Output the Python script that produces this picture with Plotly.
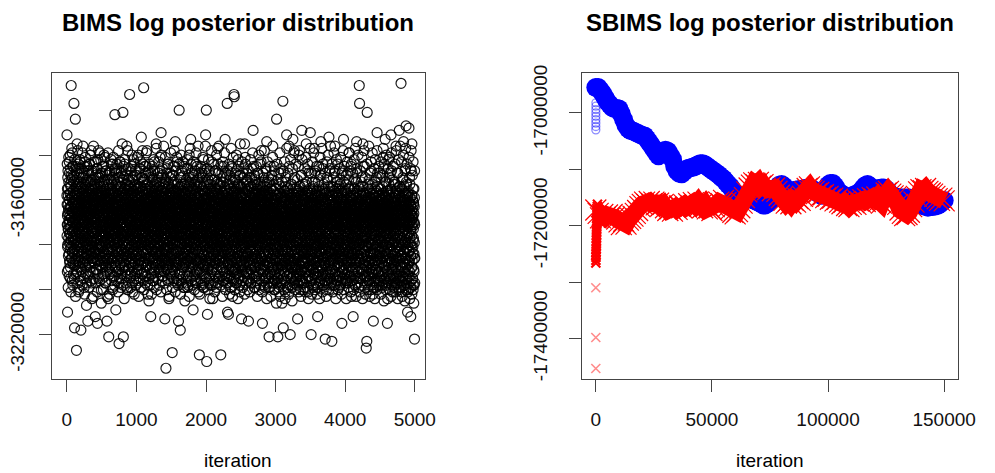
import plotly.graph_objects as go

# BIMS chain: log posterior, given as thousands below
# -3100000 (e.g. 69 -> -3169000); even and odd iterations kept in two blocks
bims_rows_even = [
    "31 62 71 55 110 80 66 47 73 58 91 64 77 52 69 84 43 70 60 75 88 57 67 40 79 63 95 72 54 81 9 68 49 76 59 86 65 39 74 50 83 61 98 70 56 78 45 66 89 62",
    "17 74 58 82 117 63 69 51 87 72 24 60 78 45 66 93 55 71 127 64 80 48 68 76 57 85 62 38 73 90 53 67 79 59 101 70 46 83 61 75 56 88 65 42 77 52 69 96 63 72",
    "118 66 54 79 71 48 85 61 74 57 92 68 50 81 64 36 76 59 88 70 55 83 62 99 67 45 78 60 73 53 86 69 41 75 58 90 65 52 80 63 107 71 56 84 47 68 77 61 94 66",
    "114 70 58 82 64 49 76 67 55 89 61 73 44 80 66 57 92 69 52 78 63 85 59 71 38 74 65 97 54 81 68 47 77 60 86 72 56 64 103 79 51 67 83 62 43 75 58 88 70 65",
    "60 73 55 112 68 84 49 77 63 91 57 70 80 46 66 74 53 87 61 115 69 42 78 64 56 82 71 95 58 67 50 76 85 62 72 39 80 59 68 54 89 65 75 48 81 63 70 100 57 74",
    "67 52 80 61 74 45 86 69 58 77 93 63 71 54 83 66 40 75 60 88 68 51 79 62 72 97 57 84 65 47 76 70 55 90 64 78 59 114 73 49 82 66 61 86 53 74 68 104 60 71",
    "121 64 77 55 70 83 48 67 79 60 92 73 57 65 86 51 76 62 69 44 81 58 74 90 66 53 78 63 71 100 56 84 68 41 75 61 88 70 59 80 47 67 94 72 22 64 79 57 85 69",
    "62 109 75 53 81 68 59 87 71 46 77 64 92 56 70 83 61 74 50 79 66 97 58 73 124 65 85 54 69 78 43 72 60 89 67 55 82 63 76 48 71 95 59 80 66 52 75 63 86 70",
    "68 57 21 79 65 121 73 50 84 61 70 90 55 76 64 44 81 67 59 93 72 62 78 53 87 66 71 47 80 60 74 99 56 69 83 64 38 77 58 85 68 51 73 91 63 79 55 70 88 65",
    "13 70 61 82 55 74 67 93 49 78 63 86 58 72 45 80 65 97 57 69 84 62 75 51 71 89 60 77 42 66 83 56 73 102 64 79 53 68 88 61 76 47 70 85 59 74 66 95 63 71",
    "74 58 83 66 49 77 62 91 70 55 81 64 72 40 79 60 87 68 53 75 96 63 71 57 85 67 46 78 61 89 69 54 76 65 32 59 73 82 50 67 80 62 71 93 56 74 64 44 83 69",
    "66 10 79 58 72 87 63 51 76 68 94 60 74 55 82 65 71 45 78 62 89 57 70 84 64 38 77 53 73 98 61 80 67 48 75 59 86 69 63 105 56 72 81 65 50 77 60 91 68 73",
    "71 63 112 79 56 68 85 61 74 50 82 66 93 58 70 77 47 64 88 72 59 80 67 96 54 75 62 86 69 43 78 65 73 57 90 61 76 52 83 68 70 35 60 74 55 87 66 79 63 72",
    "64 77 55 69 86 60 73 48 81 67 92 58 75 63 84 52 70 78 41 66 89 61 74 56 80 68 30 62 71 50 83 65 76 59 87 70 46 73 64 94 57 79 67 53 82 61 75 69 88 63",
    "70 59 82 113 66 75 52 87 63 78 69 135 57 73 91 64 80 48 71 60 85 67 77 55 96 62 74 44 81 68 58 89 72 65 103 54 79 61 70 86 50 75 67 93 63 78 57 72 84 66",
    "61 75 68 53 84 70 128 63 79 58 91 66 73 49 82 60 77 69 95 56 71 87 64 45 80 67 74 59 34 62 78 52 86 68 72 57 89 65 76 41 83 61 70 97 66 79 55 73 88 64",
    "69 114 57 76 63 85 20 71 58 80 66 93 54 74 118 62 79 68 50 87 65 73 60 96 70 47 82 64 77 56 90 67 72 43 84 61 75 59 99 68 78 53 86 65 71 62 81 105 57 74",
    "66 79 58 72 88 63 75 51 82 69 94 60 77 56 70 85 64 46 80 67 73 98 61 76 54 87 68 71 40 83 63 78 59 92 66 74 52 81 69 33 62 75 57 86 70 64 79 48 90 67",
    "72 60 84 67 55 78 109 63 89 71 49 80 65 75 58 93 69 62 86 52 77 68 97 61 74 56 82 70 44 79 64 91 66 73 59 87 68 51 76 63 83 71 36 57 75 66 88 61 78 69",
    "65 129 73 57 82 69 92 61 77 53 86 68 74 46 80 63 96 71 58 84 66 75 50 89 64 79 70 55 99 62 76 42 85 67 73 60 93 69 78 56 81 64 72 48 87 66 31 59 75 71",
    "70 20 79 62 132 74 56 85 67 111 60 78 71 51 90 64 76 58 83 69 95 62 73 47 81 66 75 55 88 68 61 98 72 53 79 65 86 60 74 43 82 68 77 57 91 63 70 104 66 80",
    "63 76 58 84 69 51 79 66 93 60 74 82 55 71 64 88 47 77 68 97 61 73 56 85 70 65 80 52 91 67 75 59 37 63 78 44 83 69 72 57 87 64 76 62 94 68 53 81 66 73",
    "71 59 86 65 77 129 54 73 81 62 90 68 75 48 84 66 72 57 96 63 79 70 52 88 67 74 61 83 45 78 64 92 69 56 80 72 33 60 76 65 87 58 73 50 82 68 95 62 77 70",
    "67 17 80 110 62 75 57 89 70 64 111 83 53 72 94 66 78 60 86 49 74 68 99 61 77 55 84 71 63 91 58 76 69 45 82 65 73 59 88 67 103 62 79 52 85 70 74 57 92 66",
    "13 64 14 78 56 83 70 61 90 67 74 51 81 65 97 59 76 69 47 86 63 72 57 93 68 79 54 84 66 71 42 88 62 77 60 95 70 74 53 82 65 101 61 78 68 49 85 64 73 58",
    "69 76 58 87 113 64 80 72 55 91 66 77 61 84 48 73 68 96 59 81 70 63 89 53 75 67 35 62 79 71 57 86 65 44 83 69 74 60 92 66 78 51 88 64 72 56 95 70 77 62",
    "72 61 84 67 114 55 79 70 93 63 76 58 88 68 74 50 82 65 97 60 73 69 85 54 78 66 91 62 75 46 80 71 64 87 57 74 68 29 61 79 53 83 70 66 94 59 77 72 49 86",
    "64 78 57 90 69 74 61 85 52 77 67 96 63 72 80 55 88 70 59 75 66 93 48 81 68 73 62 87 56 79 71 100 60 76 65 84 44 78 69 58 91 67 74 53 86 63 38 70 77 61",
    "68 73 59 86 115 65 79 71 54 92 67 76 62 83 50 77 69 98 58 81 72 64 89 56 75 66 95 61 80 70 47 85 68 74 60 34 65 78 52 88 71 63 93 67 76 57 84 70 99 62",
    "71 63 121 79 58 85 69 74 61 93 66 77 55 88 70 82 64 97 59 75 68 51 90 65 78 72 60 86 67 36 62 80 73 56 91 69 76 45 83 66 95 61 78 70 64 100 58 84 72 67",
    "66 79 60 88 72 55 24 85 69 76 63 95 67 81 58 121 74 90 65 71 53 86 68 99 62 78 73 57 93 70 80 64 103 59 84 69 76 48 89 66 97 72 61 82 68 106 63 77 71 87",
    "74 16 83 66 117 70 92 61 79 68 56 88 73 64 96 59 82 71 101 65 77 52 90 69 75 62 86 67 31 60 80 72 57 94 68 78 63 99 70 84 55 87 66 76 73 36 61 89 69 80",
    "70 62 87 74 120 58 81 68 95 64 77 71 53 90 66 83 60 99 72 75 57 88 69 33 63 80 73 51 93 67 78 61 86 70 38 65 84 59 76 72 96 63 89 68 74 55 91 66 82 71",
    "68 81 59 92 72 65 86 113 61 78 70 97 57 84 66 75 40 63 89 71 54 80 68 94 62 77 73 100 58 85 69 65 91 74 49 82 67 29 60 79 71 87 64 96 70 76 56 88 68 83",
    "73 64 90 70 58 84 67 99 62 79 71 53 88 66 76 95 60 82 69 35 64 77 72 56 92 68 80 61 86 74 47 83 65 101 70 78 59 89 67 75 63 94 71 57 85 69 77 62 30 72",
    "66 78 61 89 120 72 57 84 68 95 63 76 70 52 87 65 80 99 60 74 69 91 55 82 67 77 37 62 86 71 48 79 65 93 59 83 72 68 97 63 75 57 88 70 80 66 102 61 77 69",
    "71 112 63 85 69 58 92 74 66 80 54 89 67 76 61 97 70 83 64 49 87 72 68 79 34 60 75 66 90 56 82 71 63 94 69 77 59 86 65 44 81 73 68 98 62 78 70 57 88 67",
    "64 79 70 56 88 122 67 74 61 93 69 82 57 77 72 100 63 85 68 50 81 66 75 96 60 79 71 54 89 65 76 69 32 62 84 73 58 91 67 78 46 83 70 64 95 61 77 68 87 72",
    "69 58 83 123 72 65 91 61 77 70 54 86 67 79 63 98 71 60 84 68 75 48 89 66 73 36 62 80 69 57 93 65 76 71 52 85 68 78 63 96 70 59 82 67 74 44 88 65 79 72",
    "65 77 62 88 70 55 83 68 94 61 79 72 51 86 66 75 98 59 81 69 64 90 57 78 71 115 63 84 67 47 92 70 76 60 87 65 73 33 62 80 68 56 89 71 74 63 96 66 82 69",
    "70 62 85 67 77 53 90 69 74 60 96 66 81 72 57 87 64 78 70 48 92 65 75 61 83 68 39 63 79 71 55 88 67 74 59 94 69 80 64 45 86 72 68 77 103 62 84 66 76 60",
    "67 80 58 90 71 64 112 76 69 85 55 79 66 93 62 74 70 51 87 68 77 61 98 65 82 72 57 88 67 75 63 34 70 79 48 84 66 73 60 95 69 78 54 86 71 65 92 62 80 68",
    "9 64 17 81 70 57 88 67 75 62 95 69 78 54 84 66 72 60 91 68 79 50 86 65 74 71 35 63 82 69 57 89 67 77 62 94 70 45 83 66 76 60 87 72 68 102 64 80 58 73",
    "126 70 61 85 123 67 76 21 59 90 72 65 81 55 87 69 74 96 62 79 68 51 88 66 73 61 93 70 77 57 84 65 100 71 80 63 47 86 68 75 60 92 67 78 53 89 69 72 64 83",
    "66 114 75 58 89 70 63 84 68 96 61 78 72 52 87 65 76 69 99 59 82 71 64 91 56 80 67 74 30 62 85 70 48 79 66 93 61 77 72 55 88 68 74 63 97 60 83 69 76 65",
    "71 63 86 67 77 50 92 69 74 60 88 66 98 57 81 72 65 85 54 79 68 41 62 76 70 46 89 66 83 61 95 71 74 58 87 68 33 63 80 67 52 90 70 76 59 84 65 97 72 69",
    "67 79 115 60 84 70 56 93 73 65 81 68 42 58 77 71 50 88 64 75 69 95 62 82 72 55 86 67 31 63 78 70 47 91 66 80 61 87 73 68 101 59 83 70 76 53 94 65 79 71",
    "70 58 88 67 78 97 61 84 72 53 90 66 75 69 36 62 81 70 56 94 68 77 63 87 71 48 83 66 99 60 79 73 65 92 57 86 69 29 62 80 71 54 89 67 76 64 96 70 82 61",
    "8 72 60 89 66 101 77 55 85 70 63 94 68 79 51 88 65 74 34 61 83 71 57 92 67 76 64 98 59 86 73 46 90 69 78 62 27 66 82 70 53 95 68 75 63 87 71 110 58 81",
    "67 79 56 94 71 64 88 28 61 83 70 50 92 68 77 59 99 66 85 73 112 62 80 69 47 90 67 76 35 58 87 72 64 95 68 81 55 100 70 77 61 91 66 84 98 63 79 122 71 86",
]
bims_rows_odd = [
    "58 76 44 92 67 81 50 71 62 99 55 85 73 41 66 79 94 60 48 87 69 75 53 82 64 90 46 72 57 101 68 78 51 86 63 37 74 59 96 70 83 45 65 88 56 77 61 93 52 80",
    "73 49 84 60 95 66 42 78 70 57 89 63 103 54 75 68 86 47 80 61 92 71 58 35 83 65 76 52 97 69 62 87 44 74 81 56 100 67 73 50 90 59 79 64 85 43 71 94 60 77",
    "55 82 68 46 91 62 77 71 53 98 65 84 39 74 60 88 69 50 80 57 95 72 63 86 48 76 66 102 58 81 70 43 89 61 75 54 93 67 79 51 84 63 72 97 45 68 87 59 78 64",
    "80 61 93 52 70 85 47 76 64 99 58 73 88 44 67 82 56 90 62 77 40 71 96 59 84 66 51 79 69 104 55 74 87 63 48 81 68 92 57 75 65 36 86 72 60 95 53 78 70 83",
    "62 88 54 75 97 68 43 83 60 72 91 57 79 66 50 86 73 61 101 46 77 69 84 55 93 64 71 38 80 59 89 67 52 76 63 96 49 82 70 58 87 65 74 42 90 61 78 106 56 69",
    "84 57 72 95 63 48 81 69 90 54 76 62 100 66 45 83 71 59 87 52 78 68 94 41 74 65 85 60 97 56 80 70 47 89 64 73 58 92 67 103 51 77 63 86 70 39 82 61 75 88",
    "53 79 66 91 58 74 102 61 85 70 47 93 64 77 56 89 68 42 81 73 60 96 55 76 65 87 50 71 99 62 83 69 44 78 57 94 66 72 86 51 75 63 98 59 80 68 46 90 64 74",
    "77 62 89 48 72 96 58 83 67 44 79 65 92 55 73 86 61 101 52 76 69 38 84 63 91 57 74 68 95 50 81 66 43 88 60 78 71 99 54 85 64 47 93 70 59 82 67 35 76 62",
    "90 56 73 65 98 51 79 68 45 87 62 76 104 58 83 70 42 92 66 74 55 89 61 97 49 78 64 84 57 71 36 86 67 94 53 80 63 100 59 75 69 46 91 65 82 54 77 72 88 60",
    "61 85 70 52 94 63 78 99 57 74 66 88 47 81 69 92 55 76 40 86 64 73 101 59 83 68 50 90 62 77 96 54 72 85 65 44 80 58 93 71 67 87 49 75 62 98 56 79 70 84",
    "68 92 55 78 64 41 86 73 59 97 66 81 51 89 62 75 103 57 84 70 46 91 65 77 54 87 61 95 69 43 80 58 72 99 63 85 50 76 67 93 56 79 71 38 88 64 74 52 96 60",
    "75 51 88 63 100 58 77 69 45 92 61 84 72 55 97 66 80 48 86 64 74 39 90 59 78 67 94 53 82 70 57 102 62 76 47 89 65 73 56 95 60 81 68 44 87 71 63 98 54 79",
    "86 64 71 48 93 59 79 67 102 55 83 62 76 45 90 68 57 96 73 51 85 65 78 42 91 60 74 99 56 81 69 47 88 63 75 53 94 70 58 84 66 37 89 61 77 100 52 72 67 82",
    "57 83 66 95 50 76 64 88 71 43 91 60 79 68 54 98 63 85 47 74 70 92 58 81 65 101 52 77 69 40 87 62 73 96 56 84 67 49 90 61 78 55 94 72 64 36 86 59 80 70",
    "79 60 92 54 73 86 65 41 97 62 77 70 51 89 58 83 68 100 46 75 63 91 56 80 71 44 88 66 74 95 53 82 61 104 69 57 87 64 78 48 93 59 72 85 67 39 90 62 76 55",
    "66 94 58 77 49 85 71 62 99 55 80 67 90 45 74 63 87 52 96 69 76 38 84 60 92 65 73 56 101 61 79 70 47 88 64 83 57 95 68 75 43 89 62 78 53 86 72 66 98 59",
    "83 55 76 68 96 61 44 89 72 58 93 65 79 50 86 63 102 70 56 81 67 40 91 59 77 74 53 97 64 85 48 80 69 62 94 57 73 88 66 45 90 60 78 71 99 54 84 63 75 67",
    "60 89 71 46 83 65 97 57 76 69 52 92 62 80 73 42 87 64 99 55 78 68 94 49 82 61 74 90 58 103 66 79 53 86 63 37 95 70 75 56 88 67 44 81 59 96 72 64 85 51",
    "74 63 98 56 81 69 50 90 65 77 43 94 61 84 71 58 100 53 79 67 88 47 73 62 96 57 82 70 39 87 64 76 54 92 68 80 45 97 59 75 66 89 52 83 72 60 101 63 78 48",
    "91 57 75 64 102 50 86 69 61 95 54 79 72 45 88 66 77 58 98 62 83 48 74 70 93 56 81 41 89 65 76 60 97 53 84 68 73 99 47 80 63 90 57 77 69 36 87 62 94 71",
    "64 82 52 95 70 59 88 75 46 91 63 79 67 100 55 84 71 42 86 60 97 68 53 77 89 62 74 104 57 81 65 49 93 72 61 85 56 78 69 38 92 66 76 51 98 63 83 58 87 73",
    "78 56 90 67 44 85 61 96 73 58 80 66 101 51 76 69 88 47 94 62 83 55 72 99 64 40 86 70 77 59 92 53 81 68 63 97 48 84 74 57 89 65 36 79 71 95 60 75 87 66",
    "55 87 69 78 98 60 73 52 90 66 81 45 94 63 76 70 57 103 61 85 68 43 91 58 79 74 50 96 65 83 62 88 39 77 71 55 93 67 80 59 100 64 48 86 72 97 56 82 69 75",
    "82 61 94 53 72 88 65 47 97 70 59 85 63 79 44 91 68 76 102 57 84 66 51 89 62 74 95 55 80 71 37 87 64 99 58 78 69 46 92 60 83 73 56 90 67 41 96 63 77 54",
    "69 95 57 80 64 100 51 86 72 61 91 48 77 68 93 56 82 65 40 88 73 59 97 62 79 70 53 85 66 104 58 75 90 45 83 67 61 94 54 78 71 98 49 87 63 76 35 89 68 81",
    "88 54 73 66 96 59 81 70 43 92 63 78 57 99 68 85 50 75 62 89 71 46 94 60 80 67 102 55 77 64 87 41 90 69 58 83 74 52 97 65 79 61 93 48 84 70 56 100 63 76",
    "61 79 92 56 70 85 47 96 64 77 68 53 89 72 101 59 83 66 42 91 62 75 97 54 80 69 88 50 74 63 95 57 86 71 39 82 65 78 93 58 73 67 45 90 60 84 99 55 76 70",
    "76 99 58 84 67 51 90 63 78 71 45 94 60 82 56 97 69 74 103 53 86 65 48 80 72 92 59 77 66 40 88 62 95 57 81 70 54 89 64 75 98 61 85 68 43 91 73 58 79 66",
    "57 86 72 63 101 55 80 68 93 48 77 65 89 60 74 96 52 84 70 38 91 62 79 67 99 56 73 87 64 46 82 71 94 58 76 69 104 53 88 61 75 43 90 66 83 59 97 72 50 78",
    "83 63 95 70 52 88 66 77 99 57 81 45 92 68 74 61 103 55 86 64 79 49 94 71 58 89 67 76 41 97 62 84 70 56 90 65 73 100 53 80 69 47 93 60 87 75 62 96 58 78",
    "68 92 55 81 73 106 60 86 64 44 97 70 77 58 90 66 83 51 95 62 75 69 101 48 88 72 57 93 65 80 39 87 61 76 98 54 84 67 46 91 71 63 96 59 79 74 52 89 66 85",
    "90 59 78 66 47 95 63 85 71 100 56 80 68 43 92 61 76 73 104 54 87 65 50 97 70 82 58 89 64 37 94 67 79 60 99 55 83 72 48 91 62 77 69 102 57 86 74 45 93 65",
    "64 85 72 98 57 79 66 42 93 70 61 88 76 53 96 67 82 59 105 63 74 46 90 69 80 55 94 62 87 71 39 97 65 78 58 91 73 50 86 68 100 60 83 75 44 95 66 79 56 89",
    "79 57 94 63 86 70 51 98 66 77 60 91 45 84 72 68 101 56 89 64 75 38 93 61 82 71 54 96 67 79 62 103 49 87 74 58 92 65 81 42 97 69 76 59 88 63 100 53 84 70",
    "62 88 70 54 97 65 81 75 46 92 60 86 69 101 57 78 72 41 95 64 84 67 52 90 74 61 99 56 83 68 44 94 71 79 63 104 58 87 66 48 91 73 62 96 55 82 76 37 89 69",
    "85 66 92 59 77 71 48 96 63 83 102 57 79 68 43 91 65 86 73 54 98 61 80 70 39 94 67 76 60 88 72 100 52 84 64 47 93 69 78 58 97 62 87 74 45 90 66 81 56 99",
    "59 94 67 81 73 52 99 64 86 70 45 92 61 78 69 104 56 83 75 41 96 66 80 62 89 72 49 95 58 84 68 37 91 74 63 101 55 87 71 46 93 65 79 60 98 70 53 88 67 82",
    "77 63 89 55 96 70 66 82 48 94 61 85 74 103 57 80 68 43 91 64 86 72 51 97 60 79 69 40 93 66 83 75 56 100 62 88 71 47 95 65 78 59 92 73 36 87 67 81 54 98",
    "68 97 60 84 72 44 93 66 79 58 101 63 87 71 50 95 62 77 69 39 90 75 56 98 64 82 70 47 92 61 86 73 104 55 80 67 42 96 65 83 59 89 74 52 94 68 78 100 57 85",
    "88 58 75 67 99 54 82 71 46 94 62 78 65 90 53 85 73 41 97 60 80 69 102 56 87 64 48 92 72 61 95 57 83 76 38 91 66 79 70 100 52 86 63 45 93 68 81 59 97 74",
    "63 82 71 95 56 78 66 104 49 88 72 60 93 67 80 43 97 64 85 70 55 91 62 76 99 51 84 73 39 94 65 79 61 90 68 47 96 58 83 75 101 54 87 66 44 92 70 77 60 86",
    "96 60 77 69 48 91 65 84 73 57 100 62 79 68 42 94 71 86 55 98 63 81 74 37 90 67 78 59 103 52 88 70 46 95 64 83 72 56 97 61 76 69 40 92 66 85 58 99 73 80",
    "70 87 55 79 66 101 61 90 73 47 95 63 84 69 52 98 60 77 72 41 93 67 86 58 104 54 81 71 45 96 65 78 62 91 74 38 88 68 83 57 99 64 76 50 94 70 80 61 89 66",
    "58 92 74 63 97 69 44 85 77 60 94 66 81 53 100 71 62 88 67 36 96 73 79 56 91 65 103 59 83 70 48 95 61 87 75 43 90 68 78 55 98 64 84 72 39 93 66 80 57 102",
    "84 65 72 99 59 80 68 46 93 62 76 71 104 55 88 64 42 97 70 81 57 91 66 50 95 73 63 87 38 100 60 83 69 54 96 67 78 61 92 74 45 89 65 85 58 98 72 48 94 63",
    "61 96 70 83 55 102 67 79 64 43 94 72 88 58 99 63 76 71 49 93 60 86 68 37 97 74 81 57 105 65 90 62 44 95 70 78 59 92 66 84 52 100 69 75 63 40 98 71 87 56",
    "92 57 81 68 104 62 75 73 46 97 60 89 66 53 94 71 79 64 41 100 58 86 70 48 95 63 83 74 103 56 88 67 39 93 65 80 61 98 72 51 91 69 77 59 45 96 64 85 71 99",
    "66 89 75 52 98 63 84 70 44 95 61 78 69 101 57 87 72 38 93 64 81 67 55 97 71 76 60 104 48 91 65 86 73 42 96 62 80 58 100 69 83 54 94 67 77 36 90 70 85 61",
    "99 59 78 71 43 96 65 85 63 103 56 90 68 50 94 74 80 61 40 98 67 83 72 54 92 60 88 69 105 47 95 64 79 73 37 100 58 86 66 52 97 70 82 62 44 93 76 89 57 101",
    "64 91 72 57 100 68 83 75 41 97 61 87 70 104 53 94 66 79 46 99 63 85 74 38 96 69 81 58 102 65 90 71 49 95 60 84 67 43 98 73 78 62 106 55 92 70 86 59 47 97",
]

# SBIMS chains, read every 1000 iterations, in thousands (-17150 -> -17150000)
sbims_blue = [
    -16955, -16955, -16960, -16966, -16973, -16980, -16985, -16990, -16992, -16992,
    -16993, -17002, -17012, -17022, -17028, -17031, -17032, -17034, -17036, -17038,
    -17040, -17041, -17046, -17052, -17058, -17064, -17070, -17076, -17073, -17069,
    -17066, -17068, -17075, -17082, -17095, -17103, -17107, -17108, -17104, -17100,
    -17098, -17097, -17096, -17094, -17092, -17090, -17090, -17092, -17095, -17098,
    -17101, -17104, -17107, -17110, -17114, -17117, -17122, -17127, -17131, -17137,
    -17142, -17146, -17147, -17148, -17149, -17150, -17151, -17153, -17154, -17156,
    -17158, -17160, -17163, -17163, -17160, -17156, -17152, -17140, -17132, -17128,
    -17127, -17130, -17136, -17140, -17139, -17138, -17137, -17136, -17136, -17135,
    -17134, -17134, -17134, -17135, -17137, -17139, -17143, -17146, -17145, -17136,
    -17128, -17125, -17125, -17130, -17137, -17142, -17144, -17147, -17150, -17151,
    -17149, -17146, -17144, -17143, -17139, -17134, -17129, -17127, -17130, -17135,
    -17137, -17136, -17134, -17133, -17133, -17135, -17140, -17145, -17148, -17149,
    -17150, -17151, -17151, -17151, -17151, -17151, -17152, -17153, -17156, -17160,
    -17163, -17164, -17166, -17167, -17166, -17166, -17165, -17164, -17162, -17158,
    -17155,
]
sbims_red = [
    -17172, -17178, -17186, -17180, -17185, -17181, -17186, -17180, -17185, -17188,
    -17193, -17198, -17192, -17197, -17190, -17187, -17183, -17178, -17173, -17166,
    -17162, -17158, -17162, -17157, -17161, -17158, -17163, -17160, -17165, -17162,
    -17168, -17173, -17170, -17174, -17167, -17171, -17165, -17168, -17163, -17167,
    -17161, -17165, -17159, -17163, -17158, -17164, -17168, -17163, -17170, -17168,
    -17173, -17166, -17162, -17158, -17161, -17155, -17159, -17166, -17171, -17176,
    -17179, -17175, -17168, -17160, -17150, -17140, -17133, -17128, -17124, -17127,
    -17123, -17130, -17127, -17133, -17136, -17132, -17138, -17133, -17139, -17146,
    -17150, -17155, -17160, -17156, -17161, -17155, -17158, -17152, -17155, -17148,
    -17140, -17134, -17131, -17137, -17139, -17143, -17141, -17147, -17145, -17150,
    -17148, -17153, -17151, -17156, -17153, -17158, -17161, -17158, -17164, -17166,
    -17162, -17159, -17162, -17156, -17158, -17154, -17157, -17152, -17155, -17150,
    -17153, -17149, -17156, -17160, -17150, -17142, -17139, -17144, -17147, -17150,
    -17162, -17172, -17178, -17182, -17180, -17176, -17166, -17158, -17148, -17140,
    -17136, -17138, -17134, -17139, -17142, -17144, -17148, -17152, -17155, -17151,
    -17156,
]

# burn-in points at the very start of each chain
blue_start_iter = [5, 10, 15, 20, 25, 30, 35, 40, 45]
blue_start = [-17030, -17024, -17018, -17012, -17006, -17000, -16994, -16988, -16982]
red_start_iter = [10, 40, 70, 100, 130, 160, 190, 220, 250, 280, 310, 340, 370, 400,
                  430, 460, 490, 520, 560, 600, 650, 700]
red_start = [-17266, -17261, -17256, -17251, -17246, -17241, -17236, -17231, -17226,
             -17221, -17216, -17211, -17206, -17201, -17196, -17191, -17186, -17181,
             -17176, -17171, -17166, -17162]
red_outlier_iter = [0, 0, 0]
red_outlier = [-17310, -17398, -17453]

bims_ticks = [-3220000, -3200000, -3180000, -3160000, -3140000, -3120000]
bims_ticklabels = ["-3220000", "", "", "-3160000", "", ""]
sbims_ticks = [-17400000, -17300000, -17200000, -17100000, -17000000]
sbims_ticklabels = ["-17400000", "", "-17200000", "", "-17000000"]


def read_rows(rows):
    return [int(v) for row in rows for v in row.split()]


even = read_rows(bims_rows_even)
odd = read_rows(bims_rows_odd)
bims_iter = ([round((i + 1) * 5000 / len(even)) for i in range(len(even))]
             + [round((i + 0.5) * 5000 / len(odd)) for i in range(len(odd))])
bims_lp = [-3100000 - 1000 * v for v in even + odd]

sbims_iter = [1000 * k for k in range(len(sbims_blue))]
k = 1000

FONT = "Liberation Sans, Arial, Helvetica, sans-serif"
AX = "#444444"

fig = go.Figure()

fig.add_trace(go.Scatter(
    x=bims_iter, y=bims_lp, mode="markers", xaxis="x", yaxis="y",
    marker=dict(symbol="circle-open", size=10, color="rgba(0,0,0,0.9)",
                line=dict(width=1.2)),
))

fig.add_trace(go.Scatter(
    x=blue_start_iter, y=[v * k for v in blue_start], mode="markers",
    xaxis="x2", yaxis="y2",
    marker=dict(symbol="circle-open", size=8, color="rgba(0,0,255,0.45)",
                line=dict(width=1.3)),
))
fig.add_trace(go.Scatter(
    x=sbims_iter, y=[v * k for v in sbims_blue], mode="markers",
    xaxis="x2", yaxis="y2",
    marker=dict(symbol="circle", size=19, color="#0000ff",
                line=dict(width=0)),
))
fig.add_trace(go.Scatter(
    x=red_outlier_iter, y=[v * k for v in red_outlier], mode="markers",
    xaxis="x2", yaxis="y2",
    marker=dict(symbol="x-thin", size=9, line=dict(width=1.6, color="rgba(255,0,0,0.45)")),
))
fig.add_trace(go.Scatter(
    x=red_start_iter, y=[v * k for v in red_start], mode="markers",
    xaxis="x2", yaxis="y2",
    marker=dict(symbol="x-thin", size=9, line=dict(width=2.2, color="#ff0000")),
))
fig.add_trace(go.Scatter(
    x=sbims_iter, y=[v * k for v in sbims_red], mode="lines+markers",
    xaxis="x2", yaxis="y2",
    line=dict(color="#ff0000", width=17),
    marker=dict(symbol="x-thin", size=21, line=dict(width=1.2, color="#ff0000")),
))

axis_common = dict(
    showgrid=False, zeroline=False, showline=True, mirror=True,
    linecolor=AX, linewidth=1, ticks="outside", ticklen=12, tickwidth=1,
    tickcolor=AX, tickfont=dict(family=FONT, size=19, color="#111111"),
)

top, bottom = 67, 379
ydom = [1 - bottom / 473, 1 - top / 473]

fig.update_layout(
    width=995, height=473, margin=dict(l=0, r=0, t=0, b=0),
    paper_bgcolor="white", plot_bgcolor="white", showlegend=False,
    xaxis=dict(axis_common, domain=[53 / 995, 432 / 995], range=[-212, 5141],
               tickvals=[0, 1000, 2000, 3000, 4000, 5000], anchor="y",
               ticklabelstandoff=11),
    yaxis=dict(axis_common, domain=ydom, range=[-3239700, -3103300],
               tickvals=bims_ticks, ticktext=bims_ticklabels, tickangle=-90,
               anchor="x", ticklabelstandoff=8),
    xaxis2=dict(axis_common, domain=[592 / 995, 975 / 995], range=[-6000, 156100],
                tickvals=[0, 50000, 100000, 150000], anchor="y2",
                ticktext=["0", "50000", "100000", "150000"],
                ticklabelstandoff=11),
    yaxis2=dict(axis_common, domain=ydom, range=[-17471300, -16928700],
                tickvals=sbims_ticks, ticktext=sbims_ticklabels, tickangle=-90,
                anchor="x2", ticklabelstandoff=14),
)

titles = [
    ("<b>BIMS log posterior distribution</b>", 242.5, 16, 24),
    ("<b>SBIMS log posterior distribution</b>", 783.5, 16, 24),
    ("iteration", 242.5, 462, 19),
    ("iteration", 783.5, 462, 19),
]
for text, px, py, size in titles:
    fig.add_annotation(
        text=text, x=px / 995, y=1 - py / 473, xref="paper", yref="paper",
        xanchor="center", yanchor="middle", showarrow=False,
        font=dict(family=FONT, size=size, color="black"),
    )

fig.write_html("out.html", config={"displayModeBar": False},
               post_script="document.body.style.margin='0';")
